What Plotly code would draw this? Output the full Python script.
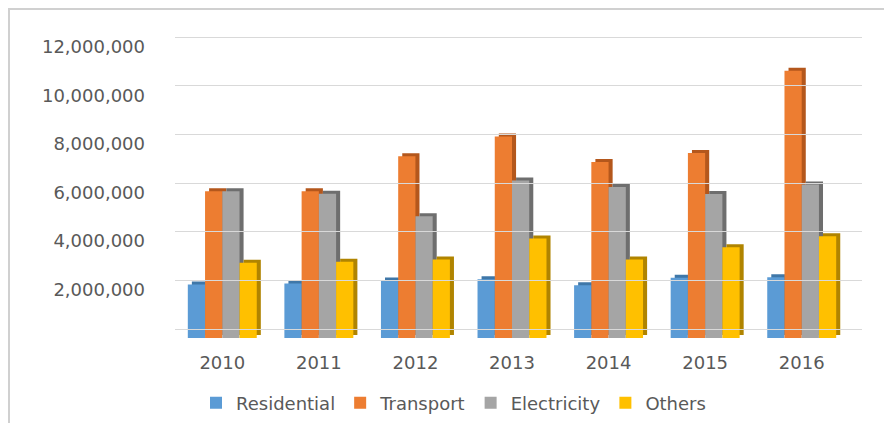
import plotly.graph_objects as go

years = ["2010", "2011", "2012", "2013", "2014", "2015", "2016"]
residential = [2210000, 2250000, 2370000, 2420000, 2180000, 2480000, 2510000]
transport = [6050000, 6050000, 7490000, 8310000, 7260000, 7630000, 11020000]
electricity = [6050000, 5950000, 5020000, 6490000, 6230000, 5940000, 6330000]
others = [3100000, 3140000, 3240000, 4100000, 3240000, 3740000, 4200000]

ytick_vals = [2000000, 4000000, 6000000, 8000000, 10000000, 12000000]
ytick_text = ["2,000,000", "4,000,000", "6,000,000", "8,000,000", "10,000,000", "12,000,000"]
YMAX = 12000000

series = [
    ("Residential", residential, "#5B9BD5", "#3F77A8"),
    ("Transport", transport, "#ED7D31", "#B4571C"),
    ("Electricity", electricity, "#A5A5A5", "#6E6E6E"),
    ("Others", others, "#FFC000", "#B08400"),
]

# Geometry (absolute page pixels; page has an 8px body margin)
PL, PR, PT, PB = 174, 862, 33, 338      # whole plotting region
FRONT_R = 850                            # right edge of the front (bar) axes
FRONT_T = 47                             # top of front value axis (12M)
BACK_L = 175                             # left of back-wall grid
BACK_0, BACK_TOP = 329, 37               # back-wall pixel rows of 0 and 12M
Y2T, Y2B = 33, 334                       # back-grid axis extent
PW, PH = PR - PL, PB - PT
s = (BACK_0 - BACK_TOP) / YMAX           # px per unit on back wall

W = 0.1785         # bar width (category units)
DX = 0.042         # depth offset x (category units)
DY = 124000        # depth offset y (data units)

fig = go.Figure()
for i, (name, vals, col, dark) in enumerate(series):
    off = -2 * W + i * W
    fig.add_trace(go.Bar(
        x=years, y=vals, base=DY, offset=off + DX, width=W,
        marker=dict(color=dark, line=dict(width=0)),
        showlegend=False, hoverinfo="skip",
    ))
    fig.add_trace(go.Bar(
        x=years, y=vals, name=name, offset=off, width=W,
        marker=dict(color=col, line=dict(width=0)),
    ))

# invisible trace to carry the back-wall grid axes
fig.add_trace(go.Scatter(x=[None], y=[None], xaxis="x2", yaxis="y2",
                         showlegend=False, hoverinfo="skip"))

tick_font = dict(family="DejaVu Sans", size=18, color="#595959")

fig.update_layout(
    width=884, height=415,
    barmode="overlay",
    paper_bgcolor="white", plot_bgcolor="rgba(0,0,0,0)",
    margin=dict(l=PL - 8, r=892 - PR, t=PT - 8, b=423 - PB, pad=0, autoexpand=False),
    font=dict(family="DejaVu Sans", color="#595959", size=18),
    legend=dict(orientation="h", x=(196 - PL) / PW, xanchor="left",
                y=(PB - 403) / PH, yanchor="middle",
                font=dict(size=18, color="#595959"), traceorder="normal"),
    xaxis=dict(type="category", domain=[0, (FRONT_R - PL) / PW],
               showgrid=False, showline=False, zeroline=False, ticks="",
               tickfont=tick_font, ticklabelstandoff=12, automargin=False),
    yaxis=dict(range=[0, YMAX], domain=[0, (PB - FRONT_T) / PH],
               tickvals=ytick_vals, ticktext=ytick_text,
               showgrid=False, zeroline=False, showline=False, ticks="",
               ticklabelstandoff=28, tickfont=tick_font, automargin=False),
    xaxis2=dict(domain=[(BACK_L - PL) / PW, 1], anchor="y2", range=[0, 1],
                showgrid=False, showticklabels=False, zeroline=False, showline=False),
    yaxis2=dict(domain=[(PB - Y2B) / PH, (PB - Y2T) / PH], anchor="x2",
                range=[(BACK_0 - Y2B) / s, (BACK_0 - Y2T) / s],
                tickvals=[0] + ytick_vals, showticklabels=False,
                showgrid=True, gridcolor="#D9D9D9", gridwidth=1,
                zeroline=False, showline=False),
    shapes=[dict(type="rect", xref="paper", yref="paper",
                 x0=(9 - PL) / PW, x1=(900 - PL) / PW,
                 y0=(PB - 440) / PH, y1=(PB - 9) / PH,
                 line=dict(color="#D0D0D0", width=2), fillcolor="rgba(0,0,0,0)",
                 layer="below")],
)

fig.write_html("out.html")
